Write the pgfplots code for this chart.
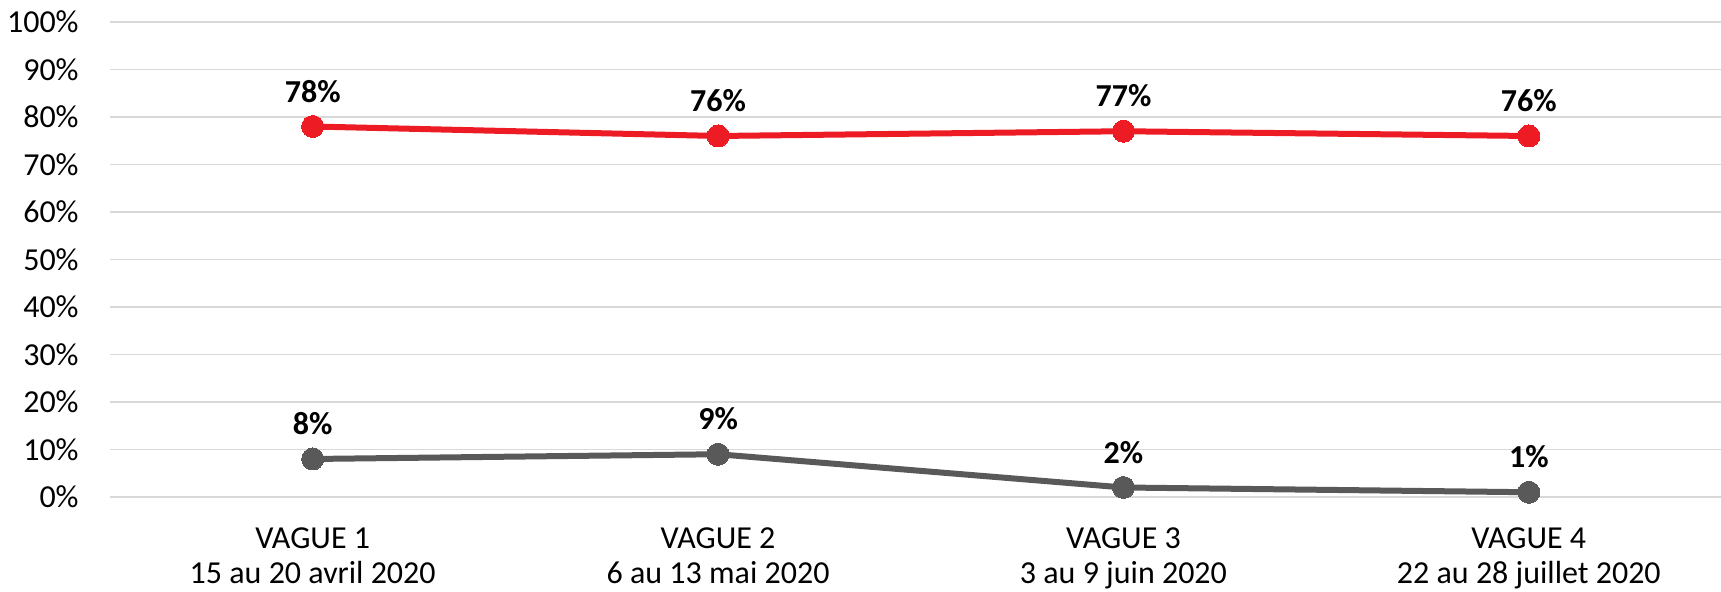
\documentclass[border=0pt]{standalone}
\usepackage{fontspec}
\setmainfont{Carlito}
\usepackage{pgfplots}
\pgfplotsset{compat=1.18}

\definecolor{serie1}{HTML}{ED1C24}
\definecolor{serie2}{HTML}{595959}
\definecolor{grille}{HTML}{D9D9D9}

\begin{document}
\begin{tikzpicture}
\begin{axis}[
    at={(0,0)}, anchor=south west,
    scale only axis,
    width=805.5pt, height=237.5pt,
    xmin=0.5, xmax=4.474,
    ymin=0, ymax=100,
    axis line style={draw=none},
    major tick length=0pt,
    xtick={1,2,3,4},
    xticklabels={{VAGUE 1\\15 au 20 avril 2020},{VAGUE 2\\6 au 13 mai 2020},{VAGUE 3\\3 au 9 juin 2020},{VAGUE 4\\22 au 28 juillet 2020}},
    xticklabel style={align=center, anchor=north, inner sep=0pt, yshift=-15pt,
        font=\fontsize{16}{17.5}\selectfont},
    ytick={0,10,...,100},
    yticklabel={\pgfmathprintnumber{\tick}\%},
    yticklabel style={anchor=east, inner sep=0pt, xshift=-15.5pt,
        font=\fontsize{16}{19}\selectfont},
    /pgf/number format/assume math mode=true,
    ymajorgrids,
    grid style={color=grille, line width=0.9pt},
    clip=false,
    nodes near coords={\pgfmathprintnumber{\pgfplotspointmeta}\%},
    every node near coord/.style={anchor=south, inner sep=0pt, yshift=12pt,
        font=\fontsize{16}{19}\selectfont\bfseries, text=black},
    point meta=y,
]
\addplot[color=serie1, line width=3pt, mark=*, mark size=5.5pt,
    mark options={fill=serie1, draw=serie1, line width=0pt}]
    coordinates {(1,78) (2,76) (3,77) (4,76)};
\addplot[color=serie2, line width=3pt, mark=*, mark size=5.5pt,
    mark options={fill=serie2, draw=serie2, line width=0pt}]
    coordinates {(1,8) (2,9) (3,2) (4,1)};
\end{axis}
\pgfresetboundingbox
\useasboundingbox (-55pt,-47.5pt) rectangle (805.5pt,248.5pt);
\end{tikzpicture}
\end{document}
